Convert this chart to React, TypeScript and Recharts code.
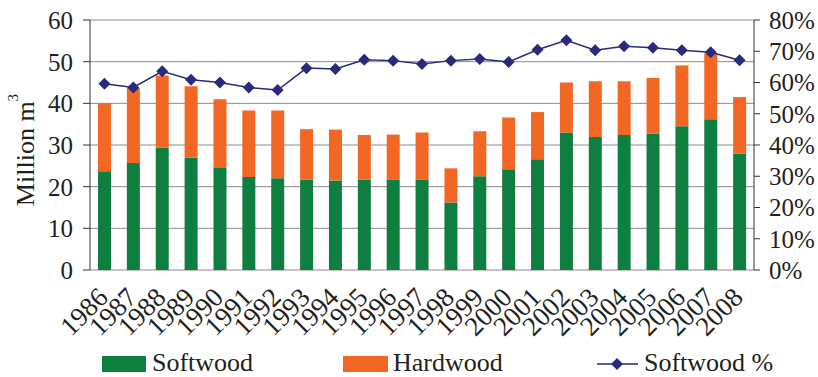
import { ComposedChart, Bar, Line, XAxis, YAxis, CartesianGrid } from 'recharts';

const years = [
  '1986', '1987', '1988', '1989', '1990', '1991', '1992', '1993', '1994', '1995', '1996', '1997',
  '1998', '1999', '2000', '2001', '2002', '2003', '2004', '2005', '2006', '2007', '2008',
];

// million m3
const softwood = [
  23.7, 25.7, 29.4, 27.0, 24.5, 22.3, 22.0, 21.7, 21.5, 21.7, 21.7, 21.7,
  16.2, 22.5, 24.2, 26.6, 33.0, 31.9, 32.4, 32.7, 34.5, 36.2, 27.9,
];
const hardwood = [
  16.3, 18.0, 17.3, 17.1, 16.5, 16.0, 16.3, 12.1, 12.2, 10.7, 10.8, 11.3,
  8.2, 10.8, 12.4, 11.3, 12.0, 13.4, 12.9, 13.4, 14.6, 15.8, 13.6,
];
// softwood share of total, %
const softwoodPct = [
  59.6, 58.4, 63.6, 60.9, 60.0, 58.4, 57.6, 64.6, 64.3, 67.3, 67.0, 65.9,
  67.0, 67.5, 66.6, 70.5, 73.5, 70.3, 71.6, 71.1, 70.3, 69.7, 67.1,
];

const leftTicks = [0, 10, 20, 30, 40, 50, 60];
const rightTicks = [0, 10, 20, 30, 40, 50, 60, 70, 80];

const GREEN = '#0f7f41';
const ORANGE = '#f36724';
const NAVY = '#2a2a7a';
const AXIS = '#333333';
const TEXT = '#231f20';
const FONT = "'Liberation Serif', 'Times New Roman', serif";

const data = years.map((year, i) => ({
  year,
  softwood: softwood[i],
  hardwood: hardwood[i],
  pct: softwoodPct[i],
}));

// category edges for the tick marks between bars
const edgeTicks = years.map((_, i) => i).concat(years.length);

function Diamond(props: any) {
  const { cx, cy } = props;
  if (cx == null || cy == null) return null;
  const r = 6;
  return <path d={`M${cx},${cy - r}L${cx + r},${cy}L${cx},${cy + r}L${cx - r},${cy}Z`} fill={NAVY} />;
}

function YearTick(props: any) {
  const { x, y, payload } = props;
  const ax = x + 5;
  const ay = y + 27;
  return (
    <text
      x={ax}
      y={ay}
      transform={`rotate(-45 ${ax} ${ay})`}
      textAnchor="end"
      fontSize={27}
      fontFamily={FONT}
      fill={TEXT}
    >
      {payload.value}
    </text>
  );
}

function UnitLabel() {
  return (
    <text
      transform="translate(34 150) rotate(-90)"
      textAnchor="middle"
      fontSize={26}
      fontFamily={FONT}
      fill={TEXT}
    >
      Million m<tspan dy={-16} fontSize={15}>3</tspan>
    </text>
  );
}

function LegendRow() {
  const t = { fontSize: 26, fontFamily: FONT, fill: TEXT };
  return (
    <svg width={818} height={37} style={{ position: 'absolute', left: 0, top: 340 }}>
      <rect x={102} y={16} width={44} height={16} fill={GREEN} />
      <text x={152} y={31} {...t}>Softwood</text>
      <rect x={343} y={16} width={45} height={16} fill={ORANGE} />
      <text x={393} y={31} {...t}>Hardwood</text>
      <line x1={597} x2={638} y1={24} y2={24} stroke={NAVY} strokeWidth={1.5} />
      <Diamond cx={617} cy={24} />
      <text x={644} y={31} {...t}>Softwood %</text>
    </svg>
  );
}

export default function App() {
  const tickStyle = { fontSize: 25, fontFamily: FONT, fill: TEXT };
  return (
    <div style={{ position: 'absolute', left: 0, top: 0, width: 818, height: 377, background: '#fff', overflow: 'hidden' }}>
      <ComposedChart
        width={818}
        height={377}
        data={data}
        margin={{ top: 20, right: 0, bottom: 0, left: 0 }}
      >
        <CartesianGrid yAxisId="l" horizontal vertical={false} stroke="#8a8a8a" strokeWidth={1} />
        <XAxis
          xAxisId="edge"
          type="number"
          domain={[0, years.length]}
          allowDataOverflow
          ticks={edgeTicks}
          tick={false}
          height={0}
          tickSize={6}
          stroke={AXIS}
        />
        <XAxis
          xAxisId="cat"
          dataKey="year"
          interval={0}
          height={107}
          axisLine={false}
          tickLine={false}
          tickSize={0}
          tick={<YearTick />}
        />
        <YAxis
          yAxisId="l"
          width={90}
          domain={[0, 60]}
          ticks={leftTicks}
          interval={0}
          tickSize={7}
          tickMargin={10}
          stroke={AXIS}
          tick={tickStyle}
          label={{ content: <UnitLabel /> }}
        />
        <YAxis
          yAxisId="r"
          orientation="right"
          width={64}
          domain={[0, 80]}
          ticks={rightTicks}
          interval={0}
          tickSize={6}
          tickMargin={9}
          stroke={AXIS}
          tick={tickStyle}
          tickFormatter={(v) => `${v}%`}
        />
        <Bar xAxisId="cat" yAxisId="l" dataKey="softwood" stackId="t" barSize={13} fill={GREEN} isAnimationActive={false} />
        <Bar xAxisId="cat" yAxisId="l" dataKey="hardwood" stackId="t" barSize={13} fill={ORANGE} isAnimationActive={false} />
        <Line
          xAxisId="cat"
          yAxisId="r"
          dataKey="pct"
          stroke={NAVY}
          strokeWidth={1.5}
          dot={<Diamond />}
          activeDot={false}
          isAnimationActive={false}
        />
      </ComposedChart>
      <LegendRow />
    </div>
  );
}
